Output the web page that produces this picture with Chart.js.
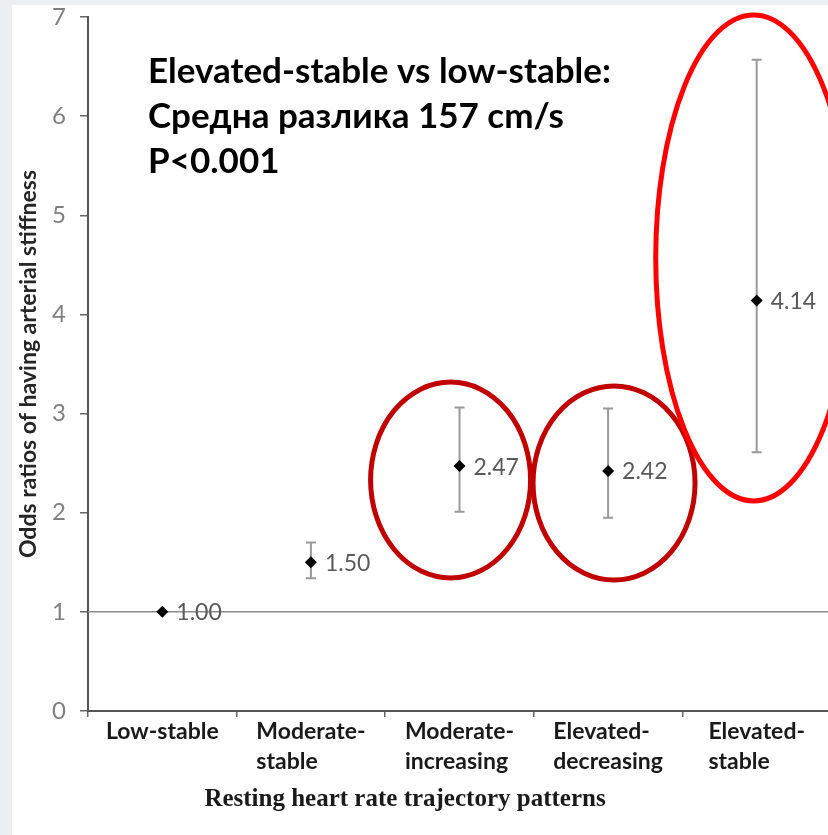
<!DOCTYPE html>
<html>
<head>
<meta charset="utf-8">
<title>Resting heart rate trajectories and arterial stiffness</title>
<script src="https://cdn.jsdelivr.net/npm/chart.js@4.4.1/dist/chart.umd.min.js"></script>
<style>
  html, body {
    margin: 0;
    width: 828px;
    height: 835px;
    overflow: hidden;
    background: #eceff1;
  }
  #wrap {
    position: absolute;
    left: 12px;
    top: 5px;
    width: 825px;
    height: 830px;
    background: #fff;
  }
</style>
</head>
<body>
<div id="wrap"><canvas id="orChart" width="825" height="830"></canvas></div>
<script>
const patterns = [
  ["Low-stable"],
  ["Moderate-", "stable"],
  ["Moderate-", "increasing"],
  ["Elevated-", "decreasing"],
  ["Elevated-", "stable"],
];
const oddsRatios = [1.0, 1.5, 2.47, 2.42, 4.14];
const ciLower = [null, 1.34, 2.01, 1.95, 2.61];
const ciUpper = [null, 1.70, 3.06, 3.05, 6.57];
const yTicks = [0, 1, 2, 3, 4, 5, 6, 7];

const noteLines = [
  "Elevated-stable vs low-stable:",
  "Средна разлика 157 cm/s",
  "P<0.001",
];

// highlight rings: centre in (category index, odds ratio), radii in px
const rings = [
  { at: 1.94, value: 2.33, rx: 80, ry: 98, color: "#c00000" },
  { at: 3.04, value: 2.30, rx: 81, ry: 97, color: "#c00000" },
  { at: 3.98, value: 4.57, rx: 98, ry: 243, color: "#ff0000" },
];

const FONT = "Lato, 'Open Sans', sans-serif";

const forestPlugin = {
  id: "forest",
  beforeDatasetsDraw(chart) {
    const { ctx, chartArea, scales } = chart;
    const x = scales.x, y = scales.y;

    // reference line at OR = 1
    const y1 = y.getPixelForValue(1);
    ctx.save();
    ctx.strokeStyle = "#8c8c8c";
    ctx.lineWidth = 1.5;
    ctx.beginPath();
    ctx.moveTo(chartArea.left, y1);
    ctx.lineTo(chartArea.right, y1);
    ctx.stroke();

    // confidence intervals
    ctx.strokeStyle = "#9a9a9a";
    ctx.lineWidth = 2;
    oddsRatios.forEach((v, i) => {
      if (ciLower[i] == null) return;
      const px = x.getPixelForValue(i);
      const top = y.getPixelForValue(ciUpper[i]);
      const bot = y.getPixelForValue(ciLower[i]);
      ctx.beginPath();
      ctx.moveTo(px, top);
      ctx.lineTo(px, bot);
      ctx.moveTo(px - 5, top);
      ctx.lineTo(px + 5, top);
      ctx.moveTo(px - 5, bot);
      ctx.lineTo(px + 5, bot);
      ctx.stroke();
    });
    ctx.restore();
  },
  afterDatasetsDraw(chart) {
    const { ctx, scales } = chart;
    ctx.save();
    ctx.font = "23px " + FONT;
    ctx.fillStyle = "#595959";
    ctx.textAlign = "left";
    ctx.textBaseline = "middle";
    oddsRatios.forEach((v, i) => {
      ctx.fillText(v.toFixed(2), scales.x.getPixelForValue(i) + 14, scales.y.getPixelForValue(v) + 1);
    });
    ctx.restore();
  },
  afterDraw(chart) {
    const { ctx, scales } = chart;
    const x = scales.x, y = scales.y;
    ctx.save();

    // category labels, lines left-aligned inside a centred block
    ctx.font = "bold 23px " + FONT;
    ctx.fillStyle = "#1a1a1a";
    ctx.textAlign = "left";
    ctx.textBaseline = "middle";
    patterns.forEach((lines, i) => {
      const w = Math.max(...lines.map(l => ctx.measureText(l).width));
      const left = x.getPixelForValue(i) - w / 2;
      lines.forEach((l, j) => ctx.fillText(l, left, y.bottom + 21 + j * 30));
    });

    // axis title
    ctx.font = "bold 25px 'Liberation Serif', 'Times New Roman', serif";
    ctx.textAlign = "center";
    ctx.fillText("Resting heart rate trajectory patterns", 393, 795);

    // note
    ctx.font = "bold 35px " + FONT;
    ctx.fillStyle = "#000";
    ctx.textAlign = "left";
    ctx.textBaseline = "alphabetic";
    noteLines.forEach((l, j) => ctx.fillText(l, 136, 78 + j * 45));

    // highlight rings
    ctx.lineWidth = 5;
    rings.forEach(r => {
      ctx.strokeStyle = r.color;
      ctx.beginPath();
      ctx.ellipse(x.getPixelForValue(r.at), y.getPixelForValue(r.value), r.rx, r.ry, 0, 0, Math.PI * 2);
      ctx.stroke();
    });
    ctx.restore();
  },
};

new Chart(document.getElementById("orChart"), {
  type: "line",
  data: {
    labels: patterns.map(p => p.join(" ")),
    datasets: [
      {
        data: oddsRatios,
        showLine: false,
        pointStyle: "rectRot",
        pointRadius: 6,
        pointBackgroundColor: "#000",
        pointBorderColor: "#000",
        pointBorderWidth: 0,
      },
    ],
  },
  options: {
    responsive: false,
    animation: false,
    devicePixelRatio: 1,
    layout: { padding: { top: 12, right: 0, left: 0, bottom: 0 } },
    plugins: {
      legend: { display: false },
      tooltip: { enabled: false },
    },
    scales: {
      x: {
        type: "category",
        offset: true,
        ticks: { display: false },
        grid: {
          offset: true,
          drawOnChartArea: false,
          tickLength: 6,
          color: "#666",
          lineWidth: 1.5,
        },
        border: { color: "#555", width: 2 },
        afterFit: s => {
          s.height = 124;
          s.paddingLeft = 0;
          s.paddingRight = 0;
        },
      },
      y: {
        min: 0,
        max: 7,
        afterBuildTicks: s => { s.ticks = yTicks.map(v => ({ value: v })); },
        ticks: {
          color: "#808080",
          padding: 14,
          font: { family: FONT, size: 24, lineHeight: 1 },
        },
        grid: {
          drawOnChartArea: false,
          tickLength: 8,
          color: "#666",
          lineWidth: 1.5,
        },
        border: { color: "#555", width: 2 },
        title: {
          display: true,
          text: "Odds ratios of having arterial stiffness",
          color: "#262626",
          font: { family: FONT, size: 23, weight: "bold" },
          padding: { top: 3, bottom: 0 },
        },
        afterFit: s => {
          s.width = 76;
          s.paddingTop = 0;
          s.paddingBottom = 0;
        },
      },
    },
  },
  plugins: [forestPlugin],
});
</script>
</body>
</html>
